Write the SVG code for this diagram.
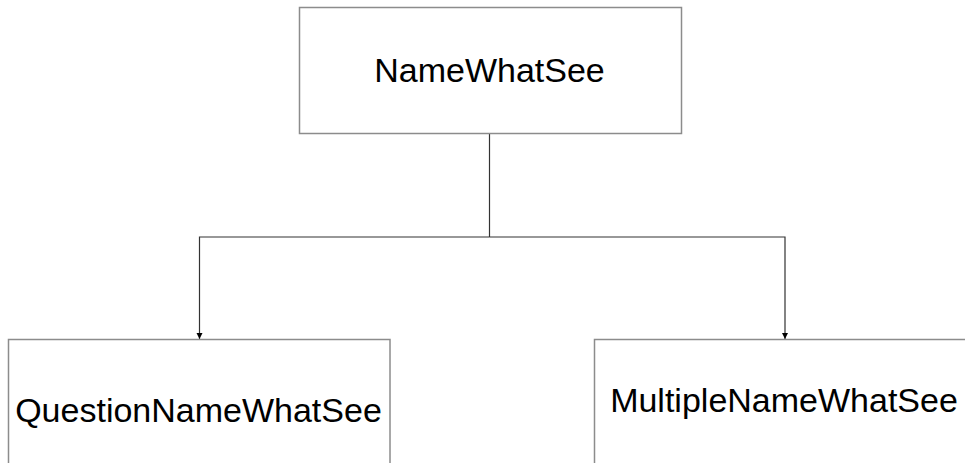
<svg xmlns="http://www.w3.org/2000/svg" width="965" height="463" viewBox="0 0 965 463">
<style>
.box{fill:#ffffff;stroke:#8c8c8c;stroke-width:1.5}
.lbl{font-family:"Liberation Sans",Arial,sans-serif;font-size:34px;fill:#000000;text-anchor:middle}
.con{fill:none;stroke:#333333;stroke-width:1.2}
</style>
<defs>
<marker id="arr" markerWidth="7" markerHeight="7" refX="6" refY="3.5" orient="auto" markerUnits="userSpaceOnUse">
<path d="M0,0.5 L6,3.5 L0,6.5 Z" fill="#000000"/>
</marker>
</defs>
<rect width="965" height="463" fill="#ffffff"/>
<g id="connectors">
<path class="con" d="M489.5,134 V237"/>
<path class="con" d="M489.5,237 H199.5 V339" marker-end="url(#arr)"/>
<path class="con" d="M489.5,237 H785 V339" marker-end="url(#arr)"/>
</g>
<g id="node-top">
<rect class="box" x="299.5" y="7.5" width="382" height="126"/>
<text class="lbl" x="489.5" y="82">NameWhatSee</text>
</g>
<g id="node-left">
<rect class="box" x="8.5" y="339.5" width="381.5" height="142"/>
<text class="lbl" x="198.5" y="422">QuestionNameWhatSee</text>
</g>
<g id="node-right">
<rect class="box" x="594.5" y="339.5" width="380" height="130"/>
<text class="lbl" x="784" y="412">MultipleNameWhatSee</text>
</g>
</svg>
